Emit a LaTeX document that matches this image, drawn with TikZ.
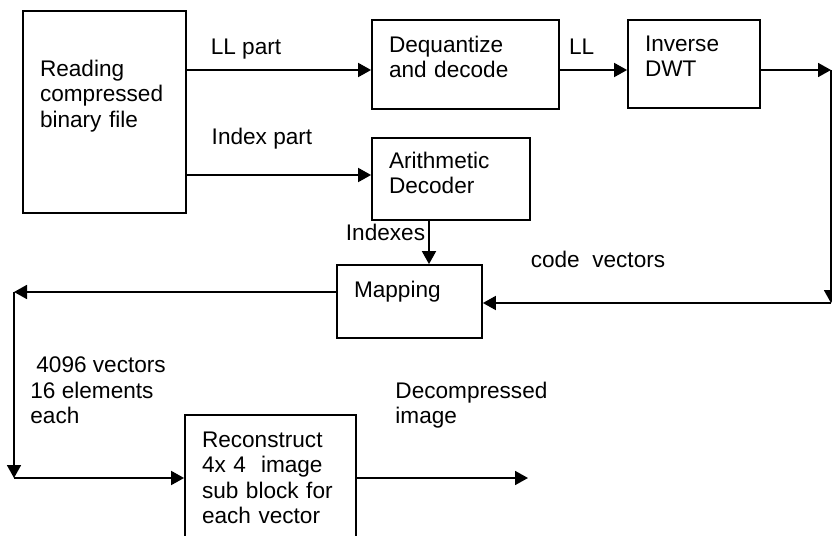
\documentclass[tikz,border=0pt]{standalone}
\usepackage{fontspec}
\setmainfont{Liberation Sans}
\usetikzlibrary{arrows.meta}

\begin{document}
\begin{tikzpicture}[
            > = {Triangle[length=6.5pt, width=7pt]}, % arrow head style
            x = 0.5pt, y = -0.5pt, % one unit is one pixel of the sketch
            line width = 0.9pt, % line style
            font = \fontsize{11.3}{12.8}\selectfont
        ]

        \tikzstyle{box}=[
            draw = black,
            inner xsep = 8.5pt,
            align = left,
            text height = 8pt
        ]
        \tikzstyle{lab}=[
            inner sep = 0pt,
            anchor = base west
        ]
        \tikzstyle{lablines}=[
            inner sep = 0pt,
            anchor = north west,
            align = left
        ]

        \useasboundingbox (0,0) rectangle (832,536);

        \node[box, minimum width=81.5pt, minimum height=101pt, text width=64.5pt, text depth=44pt] (read) at (104.5,112) {Reading\\compressed\\binary file};
        \node[box, minimum width=93.5pt, minimum height=44.5pt, text width=76.5pt, text depth=20.5pt] (deq) at (465.5,64.5) {Dequantize\\and decode};
        \node[box, minimum width=66pt, minimum height=44pt, text width=49pt, text depth=21pt] (idwt) at (694,64) {Inverse\\DWT};
        \node[box, minimum width=79pt, minimum height=41pt, text width=62pt, text depth=19pt] (arith) at (451,179) {Arithmetic\\Decoder};
        \node[box, minimum width=72.5pt, minimum height=36.5pt, text width=55.5pt, text depth=12.5pt] (map) at (409.5,301.5) {Mapping};
        \node[box, minimum width=85.5pt, minimum height=65pt, text width=68.5pt, text depth=41pt] (recon) at (270.5,480) {Reconstruct\\4x 4\ \ image\\sub block for\\each vector};

        \coordinate (rt) at (831,70);
        \coordinate (rb) at (831,303);
        \coordinate (lt) at (14,292);
        \coordinate (lb) at (14,478);
        \coordinate (out) at (528,478);

        \draw[->] ([yshift=-2.75pt]deq.west -| read.east) -- ([yshift=-2.75pt]deq.west)
            node[lab, pos=0.125, yshift=8pt] {LL part};
        \draw[->] ([yshift=2pt]arith.west -| read.east) -- ([yshift=2pt]arith.west)
            node[lab, pos=0.13, yshift=15.5pt] {Index part};
        \draw[->] ([yshift=-2.75pt]deq.east) -- ([yshift=-2.75pt]deq.east -| idwt.west)
            node[lab, pos=0.123, yshift=8pt] {LL};
        \draw[->] (idwt.east |- rt) -- (rt);
        \draw[->] (rt) -- (rb);
        \draw[->] (rb) -- (rb -| map.east)
            node[lab, pos=0.865, yshift=18pt] {code\ \ vectors};
        \draw[->] ([xshift=-11pt]arith.south) -- ([xshift=-11pt]arith.south |- map.north)
            node[inner sep=0pt, anchor=base east, pos=0.444, xshift=-1.5pt] {Indexes};
        \draw[->] (map.west |- lt) -- (lt);
        \draw[->] (lt) -- (lb)
            node[lablines, pos=0.344, xshift=7.75pt] {\hspace*{3pt}4096 vectors\\16 elements\\each};
        \draw[->] (lb) -- (lb -| recon.west);
        \draw[->] (recon.east |- out) -- (out)
            node[lablines, pos=0.22, yshift=48.5pt] {Decompressed\\image};

  \end{tikzpicture}
\end{document}
